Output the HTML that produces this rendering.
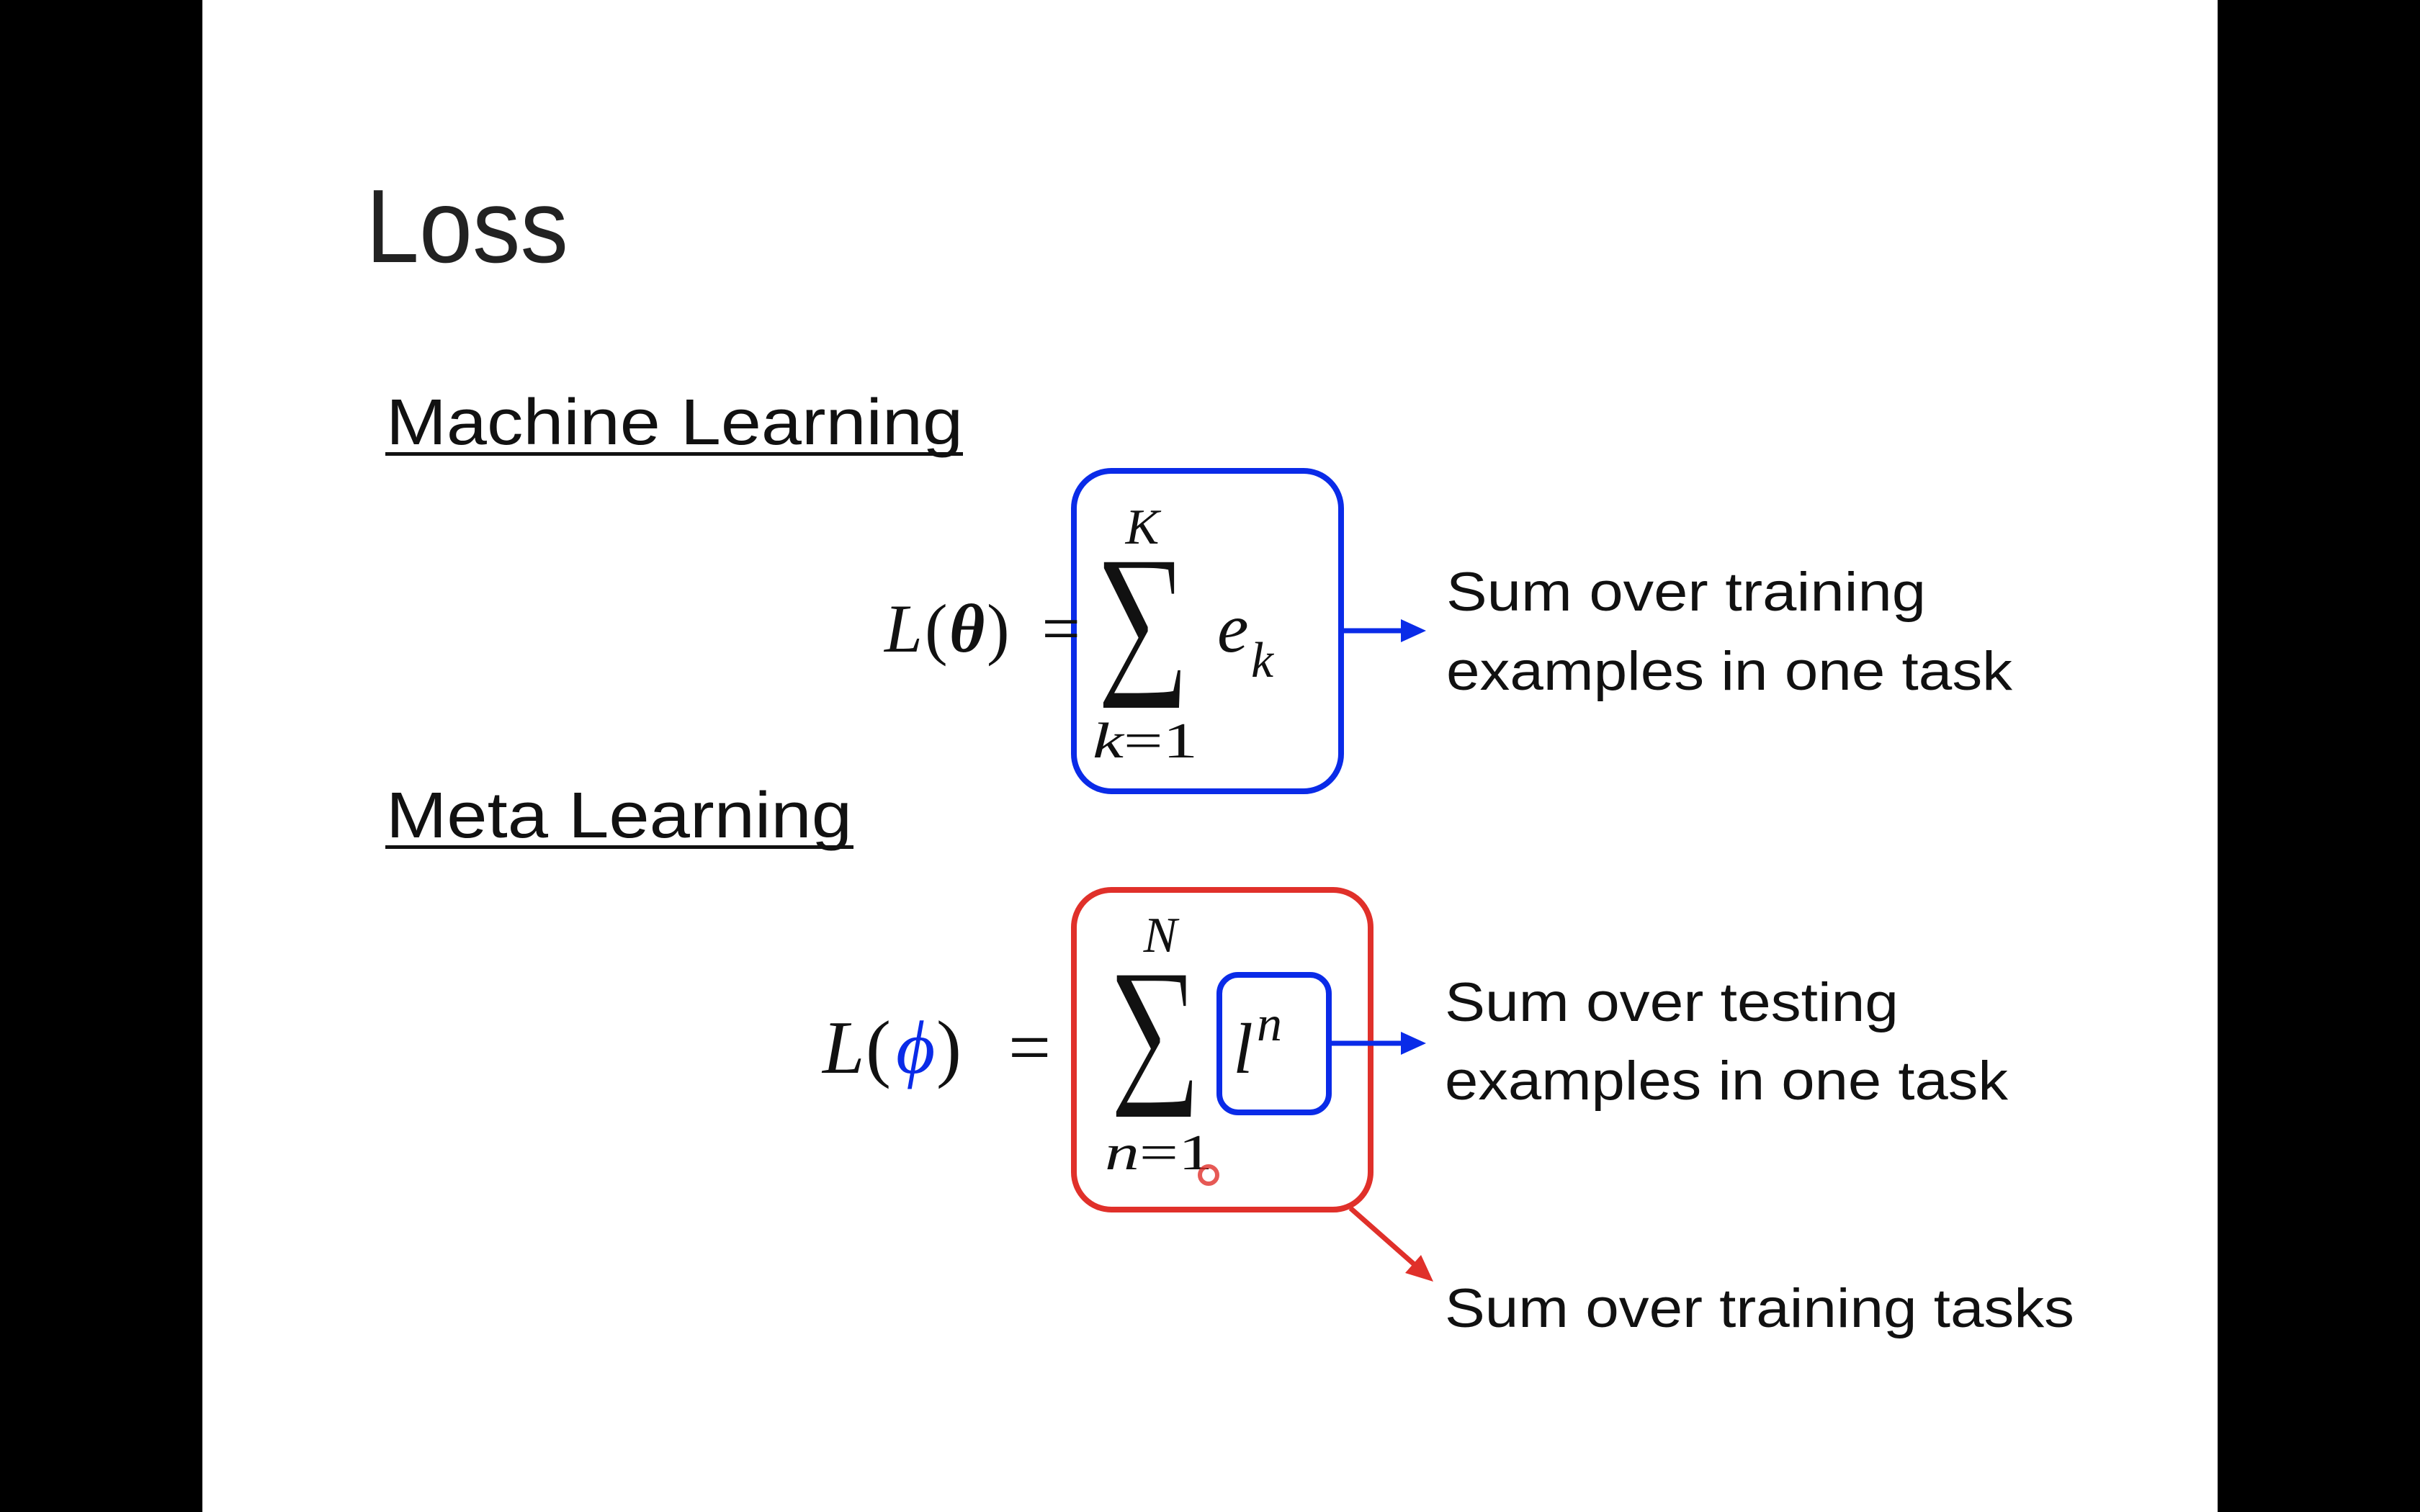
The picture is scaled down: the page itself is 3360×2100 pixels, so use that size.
<!DOCTYPE html>
<html><head><meta charset="utf-8"><style>
html,body{margin:0;padding:0;background:#000;}
svg{display:block;}
</style></head><body>
<svg width="3360" height="2100" viewBox="0 0 3360 2100" xmlns="http://www.w3.org/2000/svg">
<rect x="0" y="0" width="3360" height="2100" fill="#000"/>
<rect x="281" y="0" width="2798" height="2100" fill="#fff"/>
<text x="508" y="364" font-family="Liberation Sans, sans-serif" font-size="145" fill="#222" textLength="281" lengthAdjust="spacingAndGlyphs">Loss</text>
<text x="536" y="617" font-family="Liberation Sans, sans-serif" font-size="90" fill="#111" textLength="801" lengthAdjust="spacingAndGlyphs">Machine Learning</text>
<rect x="535" y="628" width="802" height="5" fill="#111"/>
<text x="536" y="1163" font-family="Liberation Sans, sans-serif" font-size="90" fill="#111" textLength="647" lengthAdjust="spacingAndGlyphs">Meta Learning</text>
<rect x="535" y="1174" width="650" height="5" fill="#111"/>

<rect x="1491" y="654" width="371" height="445" rx="52" fill="none" stroke="#0a2be8" stroke-width="8"/>
<rect x="1491" y="1236" width="412" height="444" rx="52" fill="none" stroke="#e0302a" stroke-width="8"/>
<rect x="1693" y="1354" width="152" height="191" rx="26" fill="none" stroke="#0a2be8" stroke-width="8"/>

<g font-family="Liberation Serif, DejaVu Serif, serif" fill="#111">
<text x="1228" y="905" font-size="95" font-style="italic">L</text>
<text x="1284" y="905" font-size="95">(</text>
<text x="1318" y="905" font-size="95" font-weight="bold" font-style="italic">θ</text>
<text x="1370" y="905" font-size="95" textLength="130">) =</text>
<text transform="translate(1521,986) scale(0.71,1)" font-size="318" stroke="#fff" stroke-width="6">Σ</text>
<text x="1586" y="755" font-size="70" font-style="italic" text-anchor="middle">K</text>
<text x="1517" y="1052" font-size="70" textLength="146" lengthAdjust="spacingAndGlyphs"><tspan font-style="italic">k</tspan>=1</text>
<text x="1690" y="905" font-size="98" font-style="italic">e</text>
<text x="1737" y="940" font-size="70" font-style="italic">k</text>

<text x="1142" y="1490" font-size="105" font-style="italic">L</text>
<text x="1202" y="1490" font-size="105">(</text>
<text x="1244" y="1490" font-size="105" font-style="italic" fill="#0a2be8">ϕ</text>
<text x="1300" y="1490" font-size="105">)</text>
<text x="1400" y="1490" font-size="105">=</text>
<text transform="translate(1539,1554) scale(0.72,1)" font-size="309" stroke="#fff" stroke-width="6">Σ</text>
<text x="1611" y="1322" font-size="70" font-style="italic" text-anchor="middle">N</text>
<text x="1534" y="1624" font-size="70" textLength="150" lengthAdjust="spacingAndGlyphs"><tspan font-style="italic">n</tspan>=1</text>
<text x="1712" y="1490" font-size="100" font-style="italic">l</text>
<text x="1745" y="1445" font-size="70" font-style="italic">n</text>
</g>
<circle cx="1678" cy="1632" r="12" fill="none" stroke="#e0302a" stroke-width="6" opacity="0.8"/>

<line x1="1862" y1="876" x2="1950" y2="876" stroke="#0a2be8" stroke-width="7"/>
<polygon points="1980,876 1945,860 1945,892" fill="#0a2be8"/>
<line x1="1845" y1="1449" x2="1950" y2="1449" stroke="#0a2be8" stroke-width="7"/>
<polygon points="1980,1449 1945,1433 1945,1465" fill="#0a2be8"/>
<line x1="1875" y1="1678" x2="1968" y2="1760" stroke="#e0302a" stroke-width="7"/>
<polygon points="1990,1780 1951,1768 1973,1743" fill="#e0302a"/>

<g font-family="Liberation Sans, sans-serif" font-size="76" fill="#111">
<text x="2008" y="848" textLength="666" lengthAdjust="spacingAndGlyphs">Sum over training</text>
<text x="2008" y="958" textLength="786" lengthAdjust="spacingAndGlyphs">examples in one task</text>
<text x="2006" y="1418" textLength="630" lengthAdjust="spacingAndGlyphs">Sum over testing</text>
<text x="2006" y="1527" textLength="782" lengthAdjust="spacingAndGlyphs">examples in one task</text>
<text x="2006" y="1843" textLength="874" lengthAdjust="spacingAndGlyphs">Sum over training tasks</text>
</g>
</svg>
</body></html>
